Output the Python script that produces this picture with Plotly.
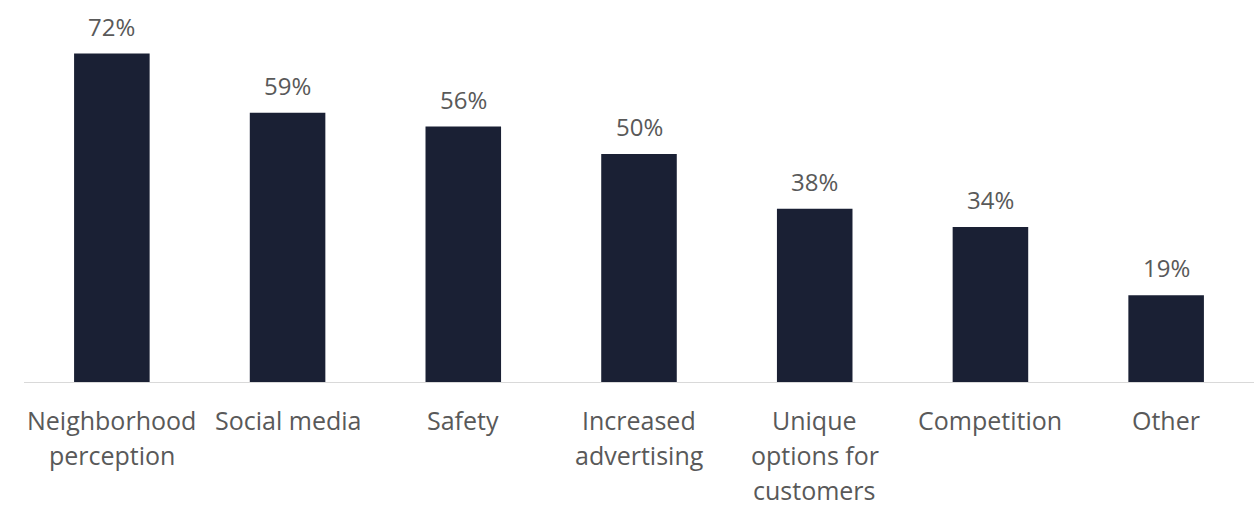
import plotly.graph_objects as go

# Survey categories and their shares (percent)
categories = [
    "Neighborhood<br>perception",
    "Social media",
    "Safety",
    "Increased<br>advertising",
    "Unique<br>options for<br>customers",
    "Competition",
    "Other",
]
shares = [72, 59, 56, 50, 38, 34, 19]
share_labels = ["72%", "59%", "56%", "50%", "38%", "34%", "19%"]

BAR_COLOR = "#1a2034"
TEXT_COLOR = "#595959"
FONT = "Open Sans"
FONT_SIZE = 25

fig = go.Figure(
    go.Bar(
        x=categories,
        y=shares,
        marker=dict(color=BAR_COLOR, line=dict(width=0)),
        hoverinfo="skip",
    )
)

# Value labels above each bar
for cat, val, lab in zip(categories, shares, share_labels):
    fig.add_annotation(
        x=cat, y=val, text=lab, showarrow=False,
        yanchor="bottom", yshift=9,
        font=dict(family=FONT, size=24, color=TEXT_COLOR),
    )

# Category labels under the axis, one annotation per line for wider spacing
LINE_GAP = 35
for cat in categories:
    for i, line in enumerate(cat.split("<br>")):
        fig.add_annotation(
            x=cat, xref="x", y=0, yref="paper", text=line, showarrow=False,
            yanchor="middle", yshift=-38 - i * LINE_GAP,
            font=dict(family=FONT, size=FONT_SIZE, color=TEXT_COLOR),
        )

fig.update_layout(
    width=1254, height=506,
    margin=dict(l=24, r=0, t=17, b=124),
    paper_bgcolor="white", plot_bgcolor="white",
    bargap=0.57,
    showlegend=False,
    font=dict(family=FONT, size=FONT_SIZE, color=TEXT_COLOR),
)
fig.update_xaxes(
    showline=True, linecolor="#d9d9d9", linewidth=1,
    ticks="", showgrid=False, showticklabels=False,
)
fig.update_yaxes(range=[0, 80], visible=False, showgrid=False, zeroline=False)

fig.write_html("out.html")
